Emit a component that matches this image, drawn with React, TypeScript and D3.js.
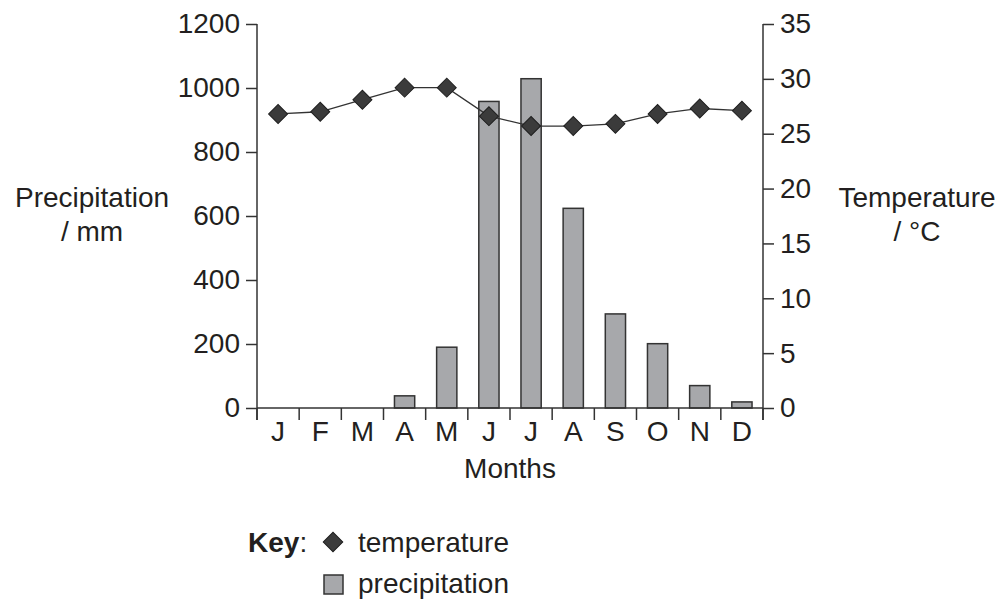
import { useEffect, useRef } from 'react';
import * as d3 from 'd3';

const months = ['J', 'F', 'M', 'A', 'M', 'J', 'J', 'A', 'S', 'O', 'N', 'D'];
const precipitation = [0, 0, 0, 38, 190, 958, 1029, 624, 294, 201, 70, 19];
const temperature = [26.8, 27.0, 28.1, 29.2, 29.2, 26.6, 25.7, 25.7, 25.9, 26.8, 27.3, 27.1];
const precipTicks = [0, 200, 400, 600, 800, 1000, 1200];
const tempTicks = [0, 5, 10, 15, 20, 25, 30, 35];

const FONT = '"Liberation Sans", Arial, Helvetica, sans-serif';
const INK = '#231f20';
const FS = 28;

const App = () => {
  const ref = useRef(null);

  useEffect(() => {
    const width = 1007;
    const height = 601;
    const left = 257;
    const right = 763;
    const top = 24;
    const bottom = 408;

    const svg = d3.select(ref.current)
      .attr('width', width)
      .attr('height', height);
    svg.selectAll('*').remove();

    const x = d3.scaleBand()
      .domain(months.map((m, i) => String(i)))
      .range([left, right])
      .padding(0);

    const yP = d3.scaleLinear().domain([0, 1200]).range([bottom, top]);
    const yT = d3.scaleLinear().domain([0, 35]).range([bottom, top]);

    const barW = x.bandwidth() * 0.48;

    // bars
    svg.append('g')
      .selectAll('rect')
      .data(precipitation)
      .join('rect')
      .attr('x', (d, i) => x(String(i)) + (x.bandwidth() - barW) / 2)
      .attr('y', (d) => yP(d))
      .attr('width', barW)
      .attr('height', (d) => yP(0) - yP(d))
      .attr('fill', '#a7a8ab')
      .attr('stroke', '#333')
      .attr('stroke-width', 1.5);

    // left axis
    const axL = svg.append('g')
      .attr('transform', `translate(${left},0)`)
      .call(d3.axisLeft(yP).tickValues(precipTicks).tickFormat(d3.format('d'))
        .tickSize(11).tickSizeOuter(0).tickPadding(6));

    // right axis
    const axR = svg.append('g')
      .attr('transform', `translate(${right},0)`)
      .call(d3.axisRight(yT).tickValues(tempTicks).tickFormat(d3.format('d'))
        .tickSize(11).tickSizeOuter(0).tickPadding(6));

    [axL, axR].forEach((ax) => {
      ax.select('.domain').remove();
      ax.selectAll('line').attr('stroke', '#333').attr('stroke-width', 1.5);
      ax.selectAll('text')
        .attr('font-family', FONT)
        .attr('font-size', FS)
        .attr('fill', INK);
    });

    // vertical axis lines and baseline
    svg.append('line')
      .attr('x1', left).attr('x2', left)
      .attr('y1', yP(1200)).attr('y2', bottom + 12)
      .attr('stroke', '#333').attr('stroke-width', 1.5);
    svg.append('line')
      .attr('x1', right).attr('x2', right)
      .attr('y1', yT(35)).attr('y2', bottom + 12)
      .attr('stroke', '#333').attr('stroke-width', 1.5);
    svg.append('line')
      .attr('x1', left).attr('x2', right)
      .attr('y1', bottom).attr('y2', bottom)
      .attr('stroke', '#333').attr('stroke-width', 1.5);

    // month ticks at band boundaries
    const bounds = months.map((m, i) => x(String(i))).concat([right]);
    svg.append('g')
      .selectAll('line')
      .data(bounds)
      .join('line')
      .attr('x1', (d) => d).attr('x2', (d) => d)
      .attr('y1', bottom).attr('y2', bottom + 12)
      .attr('stroke', '#333').attr('stroke-width', 1.5);

    svg.append('g')
      .selectAll('text')
      .data(months)
      .join('text')
      .attr('x', (d, i) => x(String(i)) + x.bandwidth() / 2)
      .attr('y', bottom + 33)
      .attr('text-anchor', 'middle')
      .attr('font-family', FONT)
      .attr('font-size', FS)
      .attr('fill', INK)
      .text((d) => d);

    // temperature line
    const line = d3.line()
      .x((d, i) => x(String(i)) + x.bandwidth() / 2)
      .y((d) => yT(d));

    svg.append('path')
      .datum(temperature)
      .attr('d', line)
      .attr('fill', 'none')
      .attr('stroke', '#333')
      .attr('stroke-width', 1.3);

    const diamond = d3.symbol().type(d3.symbolSquare).size(180);
    svg.append('g')
      .selectAll('path')
      .data(temperature)
      .join('path')
      .attr('d', diamond)
      .attr('transform', (d, i) => `translate(${x(String(i)) + x.bandwidth() / 2},${yT(d)}) rotate(45)`)
      .attr('fill', '#3b3b3b')
      .attr('stroke', '#1e1e1e')
      .attr('stroke-width', 1);

    // axis titles
    const label = (tx, ty, lines) => {
      const t = svg.append('text')
        .attr('text-anchor', 'middle')
        .attr('font-family', FONT)
        .attr('font-size', FS)
        .attr('fill', INK);
      lines.forEach((s, i) => {
        t.append('tspan').attr('x', tx).attr('y', ty + i * 34).text(s);
      });
    };
    label(92, 207, ['Precipitation', '/ mm']);
    label(917, 207, ['Temperature', '/ °C']);
    label((left + right) / 2, 478, ['Months']);

    // key
    const key = svg.append('g').attr('font-family', FONT).attr('font-size', FS).attr('fill', INK);
    const kt = key.append('text').attr('x', 248).attr('y', 552);
    kt.append('tspan').attr('font-weight', 'bold').text('Key');
    kt.append('tspan').text(':');

    key.append('path')
      .attr('d', d3.symbol().type(d3.symbolSquare).size(190)())
      .attr('transform', 'translate(333,542) rotate(45)')
      .attr('fill', '#3b3b3b')
      .attr('stroke', '#1e1e1e');
    key.append('text').attr('x', 358).attr('y', 552).text('temperature');

    key.append('rect')
      .attr('x', 324).attr('y', 575).attr('width', 19).attr('height', 19)
      .attr('fill', '#a7a8ab')
      .attr('stroke', '#333')
      .attr('stroke-width', 1.5);
    key.append('text').attr('x', 358).attr('y', 593).text('precipitation');
  }, []);

  return (
    <div>
      <svg ref={ref} style={{ position: 'absolute', left: 0, top: 0 }}></svg>
    </div>
  );
};

export default App;
